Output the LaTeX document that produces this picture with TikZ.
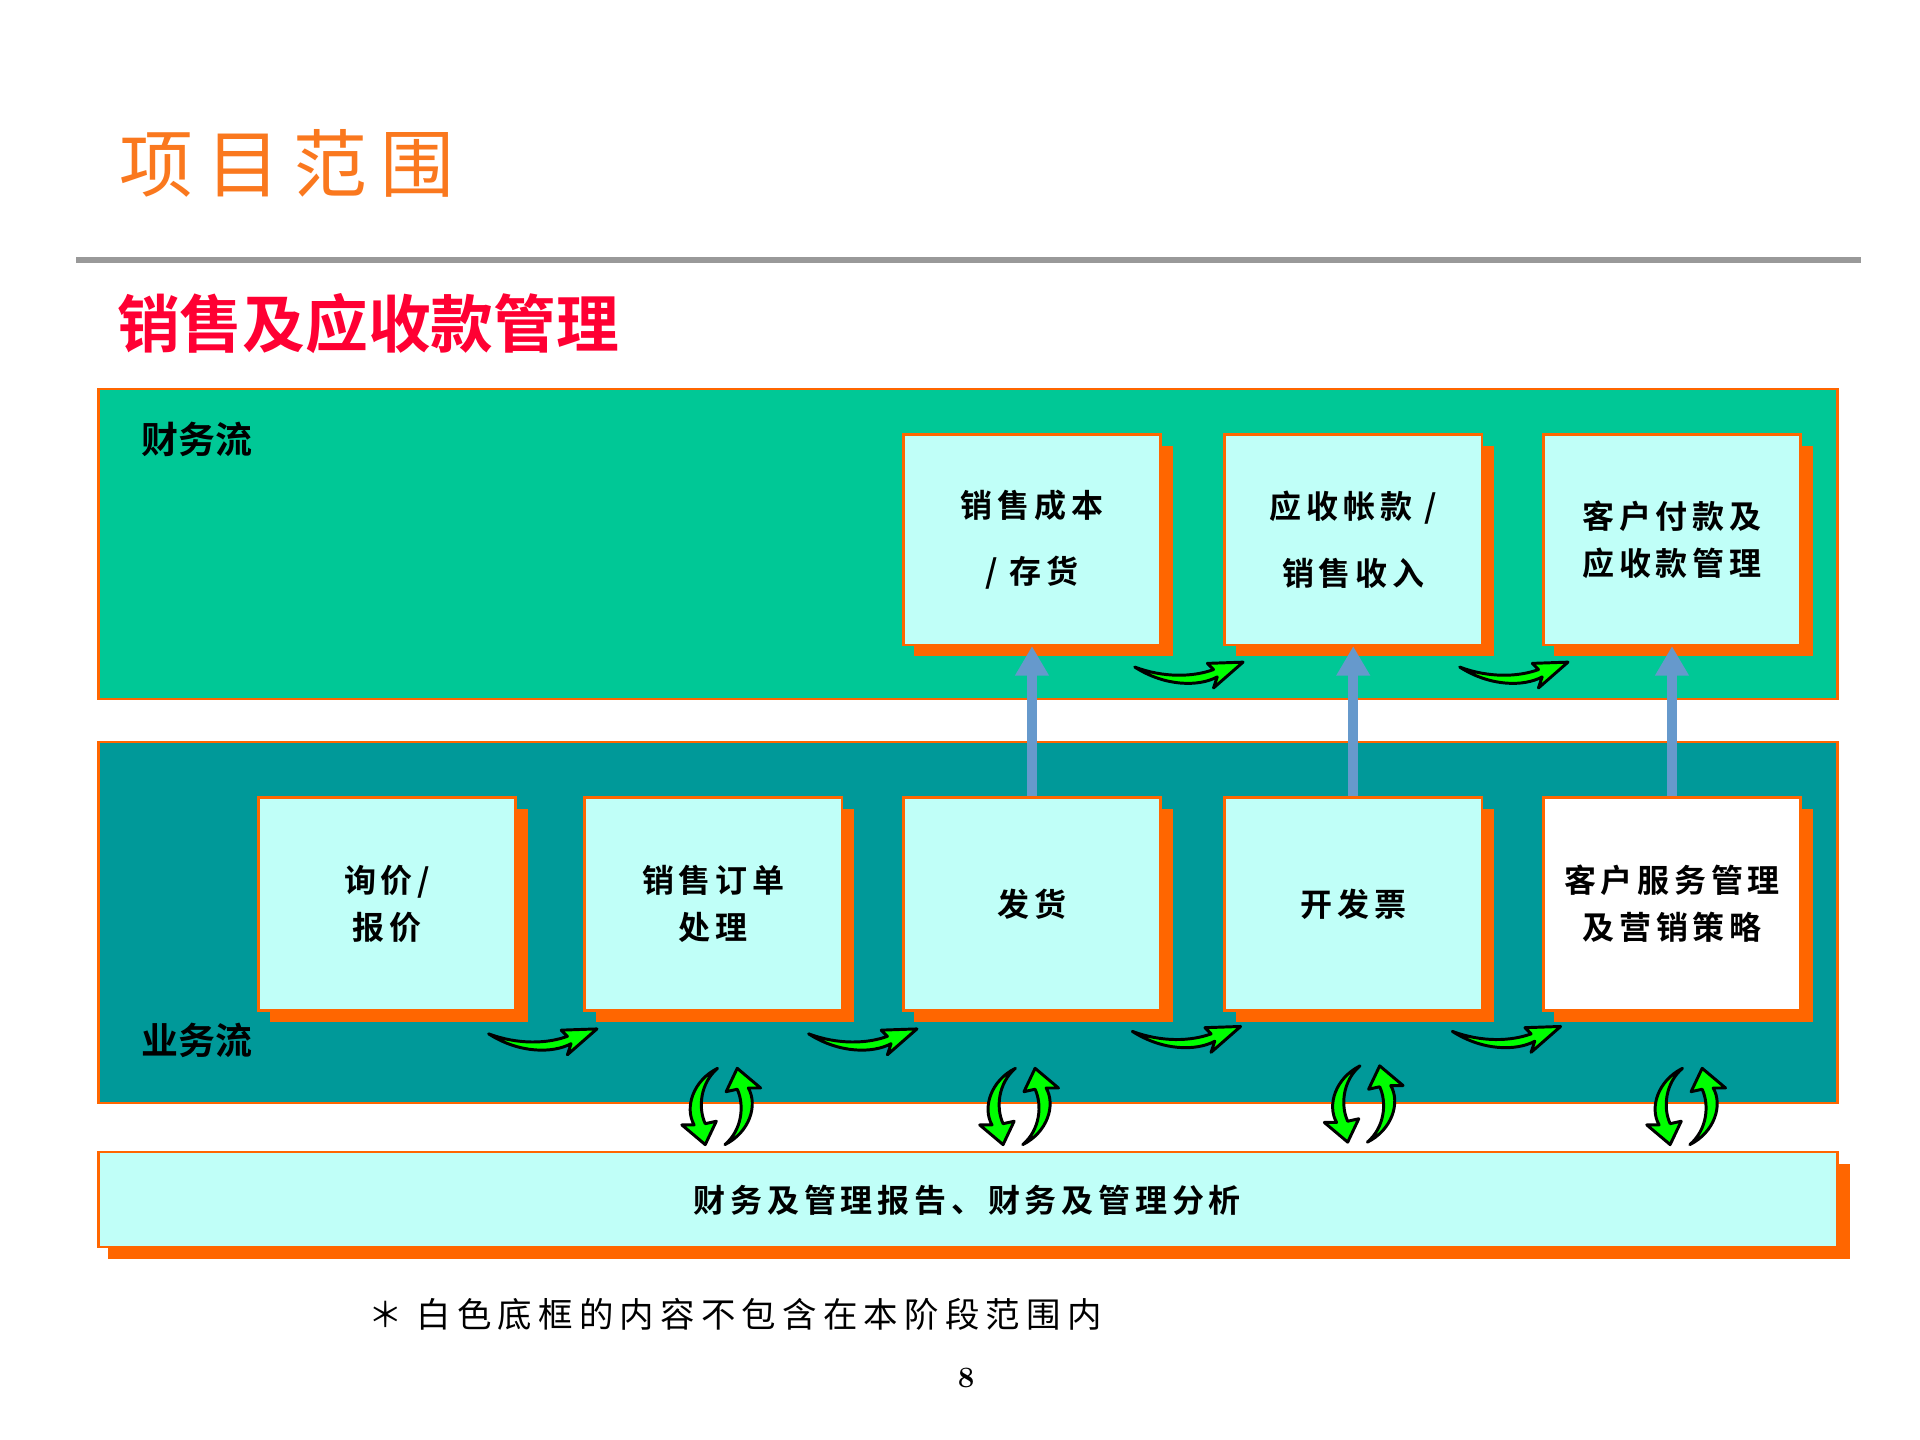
\documentclass[tikz,border=0pt]{standalone}
\usepackage{fontspec}
\newfontfamily\cjk{Noto Sans CJK SC}
\newfontfamily\cjkb{Noto Sans CJK SC Bold}
\definecolor{org}{RGB}{255,102,0}
\definecolor{ttl}{RGB}{250,120,30}
\definecolor{topg}{RGB}{0,200,150}
\definecolor{botg}{RGB}{0,153,153}
\definecolor{lcy}{RGB}{192,255,248}
\definecolor{barw}{RGB}{102,153,204}
\definecolor{grn}{RGB}{0,255,0}
\tikzset{
 proc/.style={draw=org,line width=1pt,fill=lcy,minimum width=104.5pt,minimum height=85.5pt,anchor=north west,inner sep=0pt,align=center,font=\cjkb\addfontfeature{LetterSpace=15}\fontsize{13pt}{19pt}\selectfont},
 shad/.style={fill=org,draw=none},
 upar/.style={barw,line width=4pt,-{Triangle[length=12pt,width=13pt]}},
 garrow/.style={fill=grn,draw=black,line width=1.2pt,line join=round},
 lbl/.style={font=\cjkb\fontsize{15pt}{18pt}\selectfont,anchor=center},
}
\usetikzlibrary{arrows.meta}
\newcommand\harrow[2]{\begin{scope}[shift={(#1,#2)}]
\draw[garrow] (0,0) .. controls (25,16) and (52,16) .. (67,8) -- (64,17) -- (88,-4) -- (59,-3) -- (64,2) .. controls (48,8) and (24,9) .. (0,0) -- cycle;
\end{scope}}
\newcommand\carrow[2]{\begin{scope}[shift={(#1,#2)}]
\draw[garrow] (30,0) .. controls (10,10) and (3,32) .. (11,46) -- (1,46) -- (20,62) -- (29,43) -- (20,45) .. controls (14,32) and (16,12) .. (30,0) -- cycle;
\end{scope}
\begin{scope}[shift={(#1+66,#2+62)},xscale=-1,yscale=-1]
\draw[garrow] (30,0) .. controls (10,10) and (3,32) .. (11,46) -- (1,46) -- (20,62) -- (29,43) -- (20,45) .. controls (14,32) and (16,12) .. (30,0) -- cycle;
\end{scope}}
\begin{document}
\begin{tikzpicture}[x=0.5pt,y=-0.5pt]
\useasboundingbox (0,0) rectangle (1560,1170);
\fill[white] (0,0) rectangle (1560,1170);
\node[anchor=west,text=ttl,font=\cjk\addfontfeature{LetterSpace=18}\fontsize{30pt}{34pt}\selectfont] (title) at (90,133) {项目范围};
\draw[line width=2.5pt,gray!80] (62,211) -- (1512,211);
\node[anchor=west,text={rgb,255:red,255;green,0;blue,51},font=\cjkb\fontsize{25.5pt}{30pt}\selectfont] (sub) at (88,263) {销售及应收款管理};
% panels
\draw[org,line width=1pt,fill=topg] (80,316) rectangle (1493,568);
\draw[org,line width=1pt,fill=botg] (80,603) rectangle (1493,896);
\fill[org] (88,946) rectangle (1503,1023);
\draw[org,line width=1pt,fill=lcy] (80,936) rectangle (1493,1013);
\node[lbl] (cwl) at (160,357) {财务流};
\node[lbl] (ywl) at (160,845) {业务流};
\node[font=\cjkb\addfontfeature{LetterSpace=15}\fontsize{13pt}{16pt}\selectfont] (band) at (786,975) {财务及管理报告、财务及管理分析};
% top boxes
\foreach \x in {733,994,1253}{\fill[org] (\x+10,362) rectangle (\x+220,533);}
\node[proc,minimum height=85.5pt,font=\cjkb\addfontfeature{LetterSpace=15}\fontsize{13pt}{27pt}\selectfont] (t1) at (733,352) {销售成本\\/ 存货};
\node[proc,font=\cjkb\addfontfeature{LetterSpace=15}\fontsize{13pt}{27pt}\selectfont] (t2) at (994,352) {应收帐款 /\\销售收入};
\node[proc] (t3) at (1253,352) {客户付款及\\应收款管理};
% bottom boxes
\foreach \x in {209,474,733,994,1253}{\fill[org] (\x+10,657) rectangle (\x+220,830);}
\node[proc,minimum height=86.5pt] (b1) at (209,647) {询价/\\报价};
\node[proc,minimum height=86.5pt] (b2) at (474,647) {销售订单\\处理};
\node[proc,minimum height=86.5pt] (b3) at (733,647) {发货};
\node[proc,minimum height=86.5pt] (b4) at (994,647) {开发票};
\node[proc,minimum height=86.5pt,fill=white] (b5) at (1253,647) {客户服务管理\\及营销策略};
% blue up arrows
\draw[upar] (b3.north) -- (t1.south);
\draw[upar] (b4.north) -- (t2.south);
\draw[upar] (b5.north) -- (t3.south);
% green arrows
\harrow{922}{542}
\harrow{1186}{542}
\harrow{397}{840}
\harrow{657}{840}
\harrow{920}{838}
\harrow{1180}{838}
\carrow{553}{868}
\carrow{795}{868}
\carrow{1075}{866}
\carrow{1337}{868}
\node[anchor=west,font=\cjk\addfontfeature{LetterSpace=18}\fontsize{14pt}{17pt}\selectfont] (note) at (292,1068) {＊ 白色底框的内容不包含在本阶段范围内};
\node[font=\bfseries\fontsize{12pt}{14pt}\selectfont] (pg) at (785,1120) {8};
\end{tikzpicture}
\end{document}
